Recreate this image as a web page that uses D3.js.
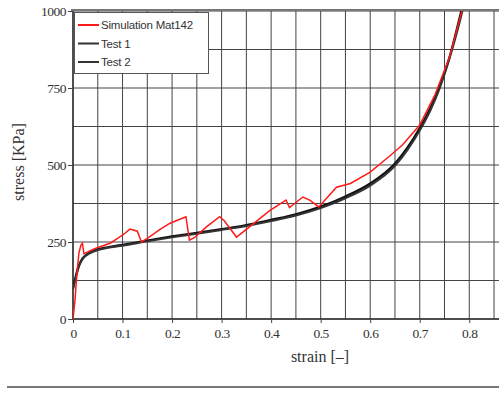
<!DOCTYPE html>
<html>
<head>
<meta charset="utf-8">
<script src="https://cdn.jsdelivr.net/npm/d3@7"></script>
<style>
  body { margin: 0; background: #fff; }
  svg { display: block; }
</style>
</head>
<body>
<svg id="chart" width="499" height="394"></svg>
<script>
// Data
var xTicks = [0, 0.1, 0.2, 0.3, 0.4, 0.5, 0.6, 0.7, 0.8];
var yTicks = [0, 250, 500, 750, 1000];

var simStrain = [0, 0.004, 0.008, 0.012, 0.016, 0.019, 0.022, 0.03, 0.038, 0.05, 0.075, 0.09, 0.1, 0.115, 0.13, 0.138, 0.15, 0.175, 0.196, 0.222, 0.228, 0.235, 0.245, 0.27, 0.296, 0.305, 0.33, 0.357, 0.397, 0.43, 0.437, 0.464, 0.478, 0.496, 0.532, 0.56, 0.6, 0.64, 0.665, 0.7, 0.73, 0.76, 0.785];
var simStress = [0, 60, 150, 215, 240, 246, 212, 218, 224, 232, 246, 262, 272, 292, 285, 250, 262, 290, 311, 328, 332, 256, 264, 300, 332, 320, 266, 300, 352, 386, 362, 396, 386, 364, 428, 440, 477, 530, 565, 630, 725, 850, 1000];

var testStrain = [0, 0.005, 0.01, 0.015, 0.02, 0.03, 0.04, 0.05, 0.07, 0.1, 0.15, 0.2, 0.25, 0.3, 0.35, 0.4, 0.45, 0.5, 0.55, 0.6, 0.65, 0.7, 0.72, 0.74, 0.76, 0.78, 0.79];
var test1Stress = [100, 135, 165, 185, 198, 212, 220, 226, 233, 241, 255, 268, 280, 292, 305, 322, 340, 365, 398, 440, 505, 620, 680, 755, 850, 975, 1040];
var test2Stress = [95, 130, 160, 182, 196, 210, 218, 224, 231, 238, 252, 265, 277, 289, 302, 318, 336, 360, 392, 433, 497, 612, 672, 748, 845, 960, 1025];

var legendNames = ["Simulation Mat142", "Test 1", "Test 2"];
var legendColors = ["#ff1a1a", "#333", "#333"];

var svg = d3.select("#chart");

var x = d3.scaleLinear().domain([0, 0.86]).range([73, 499]);
var y = d3.scaleLinear().domain([0, 1000]).range([319, 11]);

// grid every 0.05 and every 125
var gx = d3.range(0, 0.86, 0.05);
var gy = d3.range(0, 1001, 125);

svg.append("g").selectAll("line")
    .data(gx)
    .enter().append("line")
    .attr("x1", d => x(d)).attr("x2", d => x(d))
    .attr("y1", y(0)).attr("y2", y(1000))
    .attr("stroke", "#444").attr("stroke-width", 1);

svg.append("g").selectAll("line")
    .data(gy)
    .enter().append("line")
    .attr("x1", x(0)).attr("x2", 499)
    .attr("y1", d => y(d)).attr("y2", d => y(d))
    .attr("stroke", "#444").attr("stroke-width", 1);

// frame
svg.append("line")
    .attr("x1", x(0) - 2).attr("x2", 499)
    .attr("y1", y(1000) - 1).attr("y2", y(1000) - 1)
    .attr("stroke", "#777").attr("stroke-width", 2);
svg.append("line")
    .attr("x1", x(0)).attr("x2", x(0))
    .attr("y1", y(1000)).attr("y2", y(0))
    .attr("stroke", "#333").attr("stroke-width", 1.5);
svg.append("line")
    .attr("x1", x(0)).attr("x2", 499)
    .attr("y1", y(0)).attr("y2", y(0))
    .attr("stroke", "#333").attr("stroke-width", 1.5);

// axes
var xAxis = svg.append("g")
    .attr("transform", "translate(0," + y(0) + ")")
    .call(d3.axisBottom(x).tickValues(xTicks).tickFormat(d => d === 0 ? "0" : d3.format(".1f")(d)).tickSize(4).tickPadding(5));
var yAxis = svg.append("g")
    .attr("transform", "translate(" + x(0) + ",0)")
    .call(d3.axisLeft(y).tickValues(yTicks).tickFormat(d3.format("d")).tickSize(5).tickPadding(2));

[xAxis, yAxis].forEach(function(a) {
    a.select(".domain").remove();
    a.selectAll(".tick line").attr("stroke", "#444");
    a.selectAll(".tick text")
        .attr("fill", "#333")
        .style("font-family", "'Liberation Serif', 'DejaVu Serif', serif")
        .style("font-size", "13.5px")
        .style("letter-spacing", "-0.5px");
});

// axis titles
svg.append("text")
    .attr("x", 320).attr("y", 362)
    .attr("text-anchor", "middle")
    .attr("fill", "#333")
    .style("font-family", "'Liberation Serif', serif")
    .style("font-size", "16px")
    .text("strain [\u2013]");

svg.append("text")
    .attr("transform", "translate(24,162) rotate(-90)")
    .attr("text-anchor", "middle")
    .attr("fill", "#333")
    .style("font-family", "'Liberation Serif', serif")
    .style("font-size", "16px")
    .text("stress [KPa]");

// curves
svg.append("clipPath").attr("id", "plot")
    .append("rect").attr("x", x(0)).attr("y", y(1000)).attr("width", 499 - x(0)).attr("height", y(0) - y(1000) + 1);

var line = d3.line().x(d => x(d[0])).y(d => y(d[1])).curve(d3.curveMonotoneX);
var rough = d3.line().x(d => x(d[0])).y(d => y(d[1]));

var curves = svg.append("g").attr("clip-path", "url(#plot)");

curves.append("path")
    .datum(d3.zip(testStrain, test1Stress))
    .attr("fill", "none").attr("stroke", "#111").attr("stroke-width", 2.2)
    .attr("d", line);
curves.append("path")
    .datum(d3.zip(testStrain, test2Stress))
    .attr("fill", "none").attr("stroke", "#333").attr("stroke-width", 2)
    .attr("d", line);
curves.append("path")
    .datum(d3.zip(simStrain, simStress))
    .attr("fill", "none").attr("stroke", "#ff1a1a").attr("stroke-width", 1.5)
    .attr("d", rough);

// legend
var lg = svg.append("g");
lg.append("rect")
    .attr("x", 74.5).attr("y", 12.5).attr("width", 134).attr("height", 61)
    .attr("fill", "#fff").attr("stroke", "#555").attr("stroke-width", 1);

legendNames.forEach(function(name, i) {
    var ly = 25 + i * 18.5;
    lg.append("line")
        .attr("x1", 78).attr("x2", 99)
        .attr("y1", ly).attr("y2", ly)
        .attr("stroke", legendColors[i]).attr("stroke-width", 2);
    lg.append("text")
        .attr("x", 101).attr("y", ly + 4)
        .attr("fill", "#333")
        .style("font-family", "'Liberation Sans', Arial, sans-serif")
        .style("font-size", "11.5px")
        .style("letter-spacing", "-0.2px")
        .text(name);
});

// bottom separator
svg.append("line")
    .attr("x1", 7).attr("x2", 499)
    .attr("y1", 387).attr("y2", 387)
    .attr("stroke", "#777").attr("stroke-width", 2);
</script>
</body>
</html>
